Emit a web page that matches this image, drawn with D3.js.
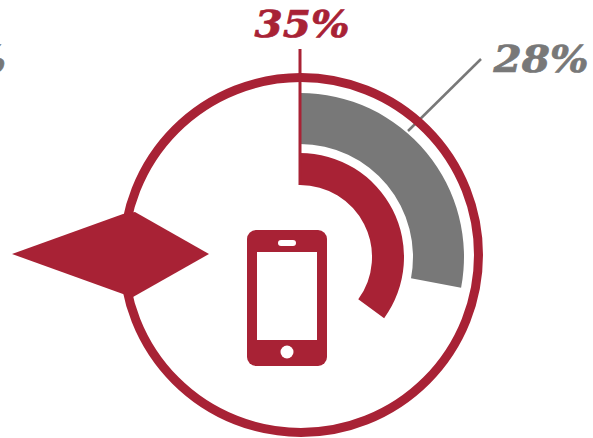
<!DOCTYPE html>
<html>
<head>
<meta charset="utf-8">
<script src="https://cdn.jsdelivr.net/npm/d3@7"></script>
<style>
  html, body { margin: 0; padding: 0; background: #fff; }
  svg { display: block; }
  text { font-family: "DejaVu Serif", serif; font-weight: 700; font-style: italic; }
</style>
</head>
<body>
<svg id="chart" width="593" height="438"></svg>
<script>
const shareLabels = ["35%", "28%"];
const shareValues = [35, 28];
const shareColors = ["#a82235", "#787878"];
const clippedLabel = "37%";

const width = 593, height = 438;
const cx = 300, cy = 257;
const red = shareColors[0], gray = shareColors[1];

const svg = d3.select("#chart");
const angle = d3.scaleLinear().domain([0, 100]).range([0, 2 * Math.PI]);
const arc = d3.arc();

// Ring radii per series: inner smartphone share, outer comparison share
const bands = [
  { inner: 72, outer: 104 },
  { inner: 113, outer: 164 }
];

// Gray leader runs underneath the outer ring
svg.append("line")
  .attr("x1", 408).attr("y1", 131).attr("x2", 481).attr("y2", 59)
  .attr("stroke", gray).attr("stroke-width", 2.5);

// Outer ring
svg.append("circle")
  .attr("cx", 301).attr("cy", 255).attr("r", 177.5)
  .attr("fill", "none").attr("stroke", red).attr("stroke-width", 9);

// Callout arrowhead sitting on the ring's left side
svg.append("polygon")
  .attr("points", "12,254 123,214 135,212 209,254 133,297 123,294")
  .attr("fill", red);

// Share arcs
svg.append("g").attr("transform", `translate(${cx},${cy})`)
  .selectAll("path")
  .data(shareValues)
  .join("path")
  .attr("fill", (d, i) => shareColors[i])
  .attr("d", (d, i) => arc({
    innerRadius: bands[i].inner,
    outerRadius: bands[i].outer,
    startAngle: 0,
    endAngle: angle(d)
  }));

// Red leader from the label down to the start of the inner arc
svg.append("line")
  .attr("x1", cx).attr("x2", cx).attr("y1", 49).attr("y2", 185)
  .attr("stroke", red).attr("stroke-width", 3);

// Value labels
const valueLabel = (x, y, anchor, color, str) => svg.append("text")
  .attr("x", x).attr("y", y)
  .attr("text-anchor", anchor).attr("font-size", 38)
  .attr("fill", color).attr("stroke", color).attr("stroke-width", 0.7)
  .attr("textLength", 95).attr("lengthAdjust", "spacingAndGlyphs")
  .text(str);
valueLabel(302, 37, "middle", red, shareLabels[0]);
valueLabel(541, 72, "middle", gray, shareLabels[1]);
valueLabel(6, 72, "end", gray, clippedLabel);

// Smartphone icon
const phone = svg.append("g");
phone.append("rect").attr("x", 247).attr("y", 230).attr("width", 80).attr("height", 136)
  .attr("rx", 9).attr("fill", red);
phone.append("rect").attr("x", 257).attr("y", 252).attr("width", 60).attr("height", 88)
  .attr("fill", "#fff");
phone.append("rect").attr("x", 278).attr("y", 240).attr("width", 18).attr("height", 6)
  .attr("rx", 3).attr("fill", "#fff");
phone.append("circle").attr("cx", 287).attr("cy", 352).attr("r", 6.5)
  .attr("fill", "#fff");
</script>
</body>
</html>
